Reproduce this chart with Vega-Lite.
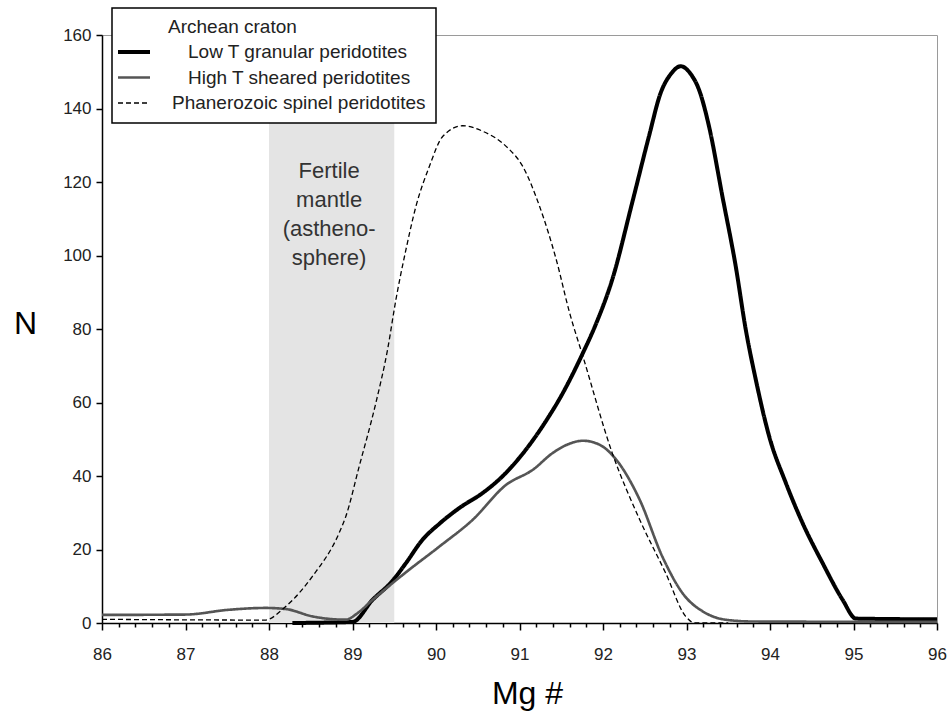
{
  "$schema": "https://vega.github.io/schema/vega-lite/v6.json",
  "width": 835,
  "height": 588,
  "autosize": {"type": "none"},
  "padding": {"left": 102, "top": 35, "right": 15, "bottom": 91},
  "background": "white",
  "config": {
    "font": "Liberation Sans",
    "view": {"stroke": "#9a9a9a", "strokeWidth": 1},
    "axis": {"grid": false, "ticks": true, "domain": true, "domainColor": "black", "tickColor": "black", "tickOpacity": 1, "labelColor": "#222", "titleColor": "black", "titleFontWeight": "normal"},
    "axisY": {"ticks": true, "tickSize": 6, "tickWidth": 1.5, "domainWidth": 1.5, "labelFontSize": 17, "labelPadding": 5,
      "titleFontSize": 32, "titleAngle": 0, "titleX": -77, "titleY": 298, "titleAlign": "center", "titleBaseline": "alphabetic", "zindex": 1},
    "axisX": {"ticks": true, "tickWidth": 1.5, "domainWidth": 1.5, "zindex": 1, "labelFlush": false, "labelFontSize": 17, "labelPadding": 16,
      "titleFontSize": 32, "titleX": 425, "titleY": 80, "titleAlign": "center", "titleBaseline": "alphabetic"}
  },
  "layer": [
    {
      "data": {"values": [{"x1": 88.0, "x2": 89.5, "y1": 0, "y2": 160}]},
      "mark": {"type": "rect", "color": "#e4e4e4"},
      "encoding": {
        "x": {"field": "x1", "type": "quantitative", "scale": {"domain": [86, 96], "nice": false, "zero": false},
          "axis": {"title": "Mg #", "ticks": true, "values": [86,86.2,86.4,86.6,86.8,87,87.2,87.4,87.6,87.8,88,88.2,88.4,88.6,88.8,89,89.2,89.4,89.6,89.8,90,90.2,90.4,90.6,90.8,91,91.2,91.4,91.6,91.8,92,92.2,92.4,92.6,92.8,93,93.2,93.4,93.6,93.8,94,94.2,94.4,94.6,94.8,95,95.2,95.4,95.6,95.8,96],
            "labelExpr": "abs(datum.value - round(datum.value)) < 0.01 ? format(datum.value, 'd') : ''",
            "tickSize": {"condition": {"test": "abs(datum.value - round(datum.value)) < 0.01", "value": 7}, "value": 4}}},
        "x2": {"field": "x2"},
        "y": {"field": "y1", "type": "quantitative", "scale": {"domain": [0, 160], "nice": false}, "axis": {"title": "N", "ticks": true, "values": [0,20,40,60,80,100,120,140,160]}},
        "y2": {"field": "y2"}
      }
    },
    {
      "data": {"values": [
        {"s": "Low T granular peridotites", "x": 88.28, "y": 0},
        {"s": "Low T granular peridotites", "x": 89.0, "y": 0.3},
        {"s": "Low T granular peridotites", "x": 89.24, "y": 6.3},
        {"s": "Low T granular peridotites", "x": 89.48, "y": 11.5},
        {"s": "Low T granular peridotites", "x": 89.64, "y": 16.3},
        {"s": "Low T granular peridotites", "x": 89.84, "y": 22.7},
        {"s": "Low T granular peridotites", "x": 90.04, "y": 27.0},
        {"s": "Low T granular peridotites", "x": 90.28, "y": 31.3},
        {"s": "Low T granular peridotites", "x": 90.56, "y": 35.4},
        {"s": "Low T granular peridotites", "x": 90.8, "y": 40},
        {"s": "Low T granular peridotites", "x": 91.0, "y": 45},
        {"s": "Low T granular peridotites", "x": 91.2, "y": 51},
        {"s": "Low T granular peridotites", "x": 91.36, "y": 56.5},
        {"s": "Low T granular peridotites", "x": 91.48, "y": 61},
        {"s": "Low T granular peridotites", "x": 91.76, "y": 73.5},
        {"s": "Low T granular peridotites", "x": 91.92, "y": 81.6},
        {"s": "Low T granular peridotites", "x": 92.11, "y": 93.4},
        {"s": "Low T granular peridotites", "x": 92.35, "y": 114.4},
        {"s": "Low T granular peridotites", "x": 92.55, "y": 132.4},
        {"s": "Low T granular peridotites", "x": 92.69, "y": 144.2},
        {"s": "Low T granular peridotites", "x": 92.82, "y": 149.6},
        {"s": "Low T granular peridotites", "x": 92.93, "y": 151.5},
        {"s": "Low T granular peridotites", "x": 93.05, "y": 149.4},
        {"s": "Low T granular peridotites", "x": 93.15, "y": 145.1},
        {"s": "Low T granular peridotites", "x": 93.27, "y": 135.1},
        {"s": "Low T granular peridotites", "x": 93.43, "y": 116.1},
        {"s": "Low T granular peridotites", "x": 93.59, "y": 97},
        {"s": "Low T granular peridotites", "x": 93.71, "y": 79.8},
        {"s": "Low T granular peridotites", "x": 93.83, "y": 66.2},
        {"s": "Low T granular peridotites", "x": 93.99, "y": 50.8},
        {"s": "Low T granular peridotites", "x": 94.19, "y": 38.1},
        {"s": "Low T granular peridotites", "x": 94.39, "y": 27.2},
        {"s": "Low T granular peridotites", "x": 94.63, "y": 16.3},
        {"s": "Low T granular peridotites", "x": 94.87, "y": 6.3},
        {"s": "Low T granular peridotites", "x": 95.03, "y": 1.2},
        {"s": "Low T granular peridotites", "x": 96.0, "y": 1.0},
        {"s": "High T sheared peridotites", "x": 86.0, "y": 2.2},
        {"s": "High T sheared peridotites", "x": 87.0, "y": 2.3},
        {"s": "High T sheared peridotites", "x": 87.52, "y": 3.6},
        {"s": "High T sheared peridotites", "x": 87.96, "y": 4.1},
        {"s": "High T sheared peridotites", "x": 88.2, "y": 3.8},
        {"s": "High T sheared peridotites", "x": 88.52, "y": 1.8},
        {"s": "High T sheared peridotites", "x": 88.92, "y": 0.9},
        {"s": "High T sheared peridotites", "x": 89.05, "y": 2.5},
        {"s": "High T sheared peridotites", "x": 89.24, "y": 6.3},
        {"s": "High T sheared peridotites", "x": 89.64, "y": 13.8},
        {"s": "High T sheared peridotites", "x": 90.04, "y": 20.8},
        {"s": "High T sheared peridotites", "x": 90.44, "y": 28.1},
        {"s": "High T sheared peridotites", "x": 90.84, "y": 37.6},
        {"s": "High T sheared peridotites", "x": 91.16, "y": 41.7},
        {"s": "High T sheared peridotites", "x": 91.4, "y": 46.3},
        {"s": "High T sheared peridotites", "x": 91.6, "y": 48.8},
        {"s": "High T sheared peridotites", "x": 91.76, "y": 49.6},
        {"s": "High T sheared peridotites", "x": 91.96, "y": 48.5},
        {"s": "High T sheared peridotites", "x": 92.16, "y": 44.4},
        {"s": "High T sheared peridotites", "x": 92.44, "y": 33.5},
        {"s": "High T sheared peridotites", "x": 92.71, "y": 18.1},
        {"s": "High T sheared peridotites", "x": 92.95, "y": 8.2},
        {"s": "High T sheared peridotites", "x": 93.23, "y": 2.7},
        {"s": "High T sheared peridotites", "x": 93.47, "y": 0.9},
        {"s": "High T sheared peridotites", "x": 93.8, "y": 0.4},
        {"s": "High T sheared peridotites", "x": 96.0, "y": 0.3},
        {"s": "Phanerozoic spinel peridotites", "x": 86.0, "y": 1.0},
        {"s": "Phanerozoic spinel peridotites", "x": 87.95, "y": 0.8},
        {"s": "Phanerozoic spinel peridotites", "x": 88.2, "y": 4.5},
        {"s": "Phanerozoic spinel peridotites", "x": 88.52, "y": 12.7},
        {"s": "Phanerozoic spinel peridotites", "x": 88.84, "y": 24.5},
        {"s": "Phanerozoic spinel peridotites", "x": 88.92, "y": 29},
        {"s": "Phanerozoic spinel peridotites", "x": 89.08, "y": 42.6},
        {"s": "Phanerozoic spinel peridotites", "x": 89.28, "y": 59.9},
        {"s": "Phanerozoic spinel peridotites", "x": 89.42, "y": 74.4},
        {"s": "Phanerozoic spinel peridotites", "x": 89.52, "y": 88},
        {"s": "Phanerozoic spinel peridotites", "x": 89.64, "y": 101.6},
        {"s": "Phanerozoic spinel peridotites", "x": 89.76, "y": 113.4},
        {"s": "Phanerozoic spinel peridotites", "x": 89.92, "y": 124.2},
        {"s": "Phanerozoic spinel peridotites", "x": 90.08, "y": 132.4},
        {"s": "Phanerozoic spinel peridotites", "x": 90.32, "y": 135.3},
        {"s": "Phanerozoic spinel peridotites", "x": 90.56, "y": 133.8},
        {"s": "Phanerozoic spinel peridotites", "x": 90.84, "y": 129.7},
        {"s": "Phanerozoic spinel peridotites", "x": 91.04, "y": 124.2},
        {"s": "Phanerozoic spinel peridotites", "x": 91.24, "y": 113.4},
        {"s": "Phanerozoic spinel peridotites", "x": 91.44, "y": 98.9},
        {"s": "Phanerozoic spinel peridotites", "x": 91.6, "y": 84.4},
        {"s": "Phanerozoic spinel peridotites", "x": 91.76, "y": 72.5},
        {"s": "Phanerozoic spinel peridotites", "x": 92.11, "y": 46.3},
        {"s": "Phanerozoic spinel peridotites", "x": 92.44, "y": 28.1},
        {"s": "Phanerozoic spinel peridotites", "x": 92.75, "y": 13.6},
        {"s": "Phanerozoic spinel peridotites", "x": 92.99, "y": 1.8},
        {"s": "Phanerozoic spinel peridotites", "x": 93.1, "y": 0},
        {"s": "Phanerozoic spinel peridotites", "x": 93.5, "y": 0}
      ]},
      "mark": {"type": "line", "interpolate": "monotone"},
      "encoding": {
        "x": {"field": "x", "type": "quantitative", "scale": {"domain": [86, 96], "nice": false, "zero": false},
          "axis": {"title": "Mg #", "ticks": true, "values": [86,86.2,86.4,86.6,86.8,87,87.2,87.4,87.6,87.8,88,88.2,88.4,88.6,88.8,89,89.2,89.4,89.6,89.8,90,90.2,90.4,90.6,90.8,91,91.2,91.4,91.6,91.8,92,92.2,92.4,92.6,92.8,93,93.2,93.4,93.6,93.8,94,94.2,94.4,94.6,94.8,95,95.2,95.4,95.6,95.8,96],
            "labelExpr": "abs(datum.value - round(datum.value)) < 0.01 ? format(datum.value, 'd') : ''",
            "tickSize": {"condition": {"test": "abs(datum.value - round(datum.value)) < 0.01", "value": 7}, "value": 4}}},
        "y": {"field": "y", "type": "quantitative", "scale": {"domain": [0, 160], "nice": false}, "axis": {"title": "N", "ticks": true, "values": [0,20,40,60,80,100,120,140,160]}},
        "color": {"field": "s", "type": "nominal",
          "scale": {"domain": ["Low T granular peridotites", "High T sheared peridotites", "Phanerozoic spinel peridotites"], "range": ["#000000", "#555555", "#000000"]},
          "legend": {"orient": "none", "legendX": 10, "legendY": -27, "direction": "vertical",
            "title": "Archean craton",
            "titleFontSize": 19, "titleFontWeight": "normal", "titleColor": "#222", "titlePadding": 3,
            "labelFontSize": 19, "labelColor": "#222", "labelOffset": 26, "labelLimit": 400,
            "symbolType": "M-1.6,0H1.6", "symbolSize": 400, "rowPadding": 4,
            "padding": 10, "fillColor": "white", "strokeColor": "black",
            "encode": {
              "legend": {"update": {"strokeWidth": {"value": 1.5}}},
              "symbols": {"update": {"fill": {"value": "transparent"}}},
              "title": {"update": {"dx": {"value": 46}}},
              "labels": {"update": {"dx": [{"test": "datum.value == 'Phanerozoic spinel peridotites'", "value": 0}, {"value": 16}]}}
            }}},
        "strokeWidth": {"field": "s", "type": "nominal",
          "scale": {"domain": ["Low T granular peridotites", "High T sheared peridotites", "Phanerozoic spinel peridotites"], "range": [4, 1.3, 1.6]}},
        "strokeDash": {"field": "s", "type": "nominal",
          "scale": {"domain": ["Low T granular peridotites", "High T sheared peridotites", "Phanerozoic spinel peridotites"], "range": [[1, 0], [1, 0], [5, 3]]}}
      }
    },
    {
      "data": {"values": [
        {"x": 88.72, "y": 121.2, "t": "Fertile"},
        {"x": 88.72, "y": 113.3, "t": "mantle"},
        {"x": 88.72, "y": 105.4, "t": "(astheno-"},
        {"x": 88.72, "y": 97.5, "t": "sphere)"}
      ]},
      "mark": {"type": "text", "fontSize": 22, "color": "#333", "align": "center", "baseline": "alphabetic"},
      "encoding": {
        "x": {"field": "x", "type": "quantitative",
          "axis": {"title": "Mg #", "ticks": true, "values": [86,86.2,86.4,86.6,86.8,87,87.2,87.4,87.6,87.8,88,88.2,88.4,88.6,88.8,89,89.2,89.4,89.6,89.8,90,90.2,90.4,90.6,90.8,91,91.2,91.4,91.6,91.8,92,92.2,92.4,92.6,92.8,93,93.2,93.4,93.6,93.8,94,94.2,94.4,94.6,94.8,95,95.2,95.4,95.6,95.8,96],
            "labelExpr": "abs(datum.value - round(datum.value)) < 0.01 ? format(datum.value, 'd') : ''",
            "tickSize": {"condition": {"test": "abs(datum.value - round(datum.value)) < 0.01", "value": 7}, "value": 4}}},
        "y": {"field": "y", "type": "quantitative", "axis": {"title": "N", "ticks": true, "values": [0,20,40,60,80,100,120,140,160]}},
        "text": {"field": "t"}
      }
    }
  ]
}
